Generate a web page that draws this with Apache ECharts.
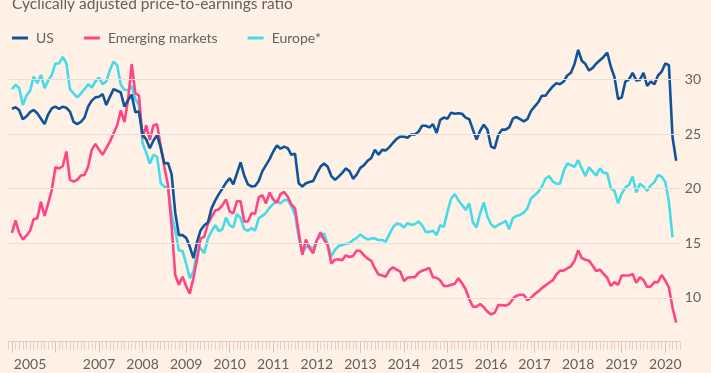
<!DOCTYPE html>
<html><head><meta charset="utf-8">
<script src="https://cdn.jsdelivr.net/npm/echarts@6/dist/echarts.min.js"></script>
<style>html,body{margin:0;padding:0;background:#fff1e5;}#c{width:711px;height:373px;}</style>
</head><body><div id="c"></div>
<script>
const titleText = 'Cyclically adjusted price-to-earnings ratio';
const seriesNames = ['US', 'Emerging markets', 'Europe*'];
// Monthly values, Jan 2005 onwards
const usValues = [
27.3,27.45,27.2,26.35,26.6,27.0,27.2,26.9,26.4,25.9,26.8,27.35,
27.5,27.3,27.5,27.4,27.05,26.1,25.9,26.1,26.5,27.5,28.05,28.35,
28.4,28.65,27.65,28.4,29.1,28.95,28.8,27.5,28.1,28.6,27.0,27.05,
24.95,24.5,23.7,24.4,24.9,23.75,22.3,22.35,21.3,17.8,15.75,15.75,
15.5,14.7,13.65,15.1,16.2,16.65,16.9,18.2,18.9,19.5,20.0,20.55,
20.95,20.4,21.4,22.4,21.2,20.4,20.2,20.25,20.7,21.6,22.15,22.7,
23.4,23.95,23.65,23.85,23.7,23.1,23.2,20.5,20.2,20.5,20.6,20.7,
21.4,22.0,22.3,22.0,21.15,20.8,21.1,21.45,21.85,21.6,20.9,21.3,
21.9,22.15,22.55,22.8,23.55,23.1,23.55,23.5,23.8,24.2,24.55,24.75,
24.75,24.65,24.95,24.95,25.2,25.75,25.75,25.6,25.9,25.1,26.3,26.5,
26.4,26.95,26.85,26.9,26.85,26.5,26.35,25.4,24.5,25.3,25.85,25.4,
23.85,23.7,24.9,25.4,25.4,25.6,26.4,26.55,26.35,26.15,26.35,27.1,
27.5,27.9,28.5,28.5,28.95,29.35,29.65,29.55,29.8,30.35,30.6,31.4,
32.7,31.7,31.4,30.8,31.05,31.45,31.75,32.05,32.45,31.15,30.2,28.2,
28.35,29.8,30.0,30.6,29.9,29.95,30.6,29.4,29.8,29.55,30.35,30.7,
31.45,31.3,24.7,22.55
];
const emValues = [
15.95,17.1,15.95,15.35,15.7,16.15,17.2,17.3,18.8,17.5,18.65,19.9,
21.95,21.85,22.05,23.4,20.8,20.65,20.8,21.2,21.25,22.0,23.55,24.1,
23.55,23.1,23.7,24.3,25.05,25.8,27.15,26.1,28.1,31.4,28.75,28.5,
24.6,25.8,24.45,25.8,25.9,23.85,22.0,20.3,16.6,12.1,11.2,11.95,
11.1,10.4,11.8,13.5,15.45,15.6,16.8,17.4,18.0,18.1,18.5,19.0,
17.9,17.75,18.85,18.85,17.0,17.0,17.75,17.7,19.2,19.4,18.65,19.65,
19.0,18.7,19.5,19.7,19.25,18.55,18.2,16.05,13.95,15.35,14.55,14.1,
15.25,16.0,15.3,14.85,13.15,13.5,13.55,13.45,13.9,13.75,13.85,14.35,
14.3,13.9,13.6,13.4,12.7,12.15,12.05,11.95,12.55,12.8,12.6,12.4,
11.55,11.85,11.9,11.9,12.3,12.5,12.6,12.75,11.9,11.85,11.6,11.1,
11.1,11.2,11.3,11.8,11.35,10.8,9.9,9.2,9.2,9.45,9.15,8.75,
8.5,8.65,9.35,9.35,9.3,9.45,9.9,10.2,10.3,10.3,9.8,10.0,
10.35,10.6,10.9,11.15,11.4,11.6,12.15,12.5,12.5,12.7,12.9,13.4,
14.35,13.65,13.5,13.4,12.95,12.45,12.6,12.2,11.85,11.1,11.45,11.2,
12.05,12.05,12.05,12.2,11.4,11.9,11.65,11.0,11.05,11.45,11.45,12.1,
11.6,10.95,9.1,7.75
];
const euValues = [
29.1,29.5,29.2,27.65,28.5,28.95,30.25,29.65,30.4,29.2,29.9,30.4,
31.45,31.45,32.05,31.45,29.1,28.7,28.35,28.7,29.1,29.55,29.25,29.8,
30.15,29.55,29.8,30.85,31.6,31.3,29.5,29.05,29.0,29.4,28.2,27.65,
24.15,23.3,22.3,23.1,22.9,20.5,20.2,20.1,17.6,16.2,14.35,14.3,
13.15,11.8,12.4,14.25,14.55,14.1,15.45,16.1,16.65,16.1,16.3,17.35,
16.65,16.45,17.7,17.3,16.3,16.15,16.4,16.15,17.3,17.5,17.8,18.25,
18.6,18.9,18.65,18.95,18.95,18.4,17.6,15.6,14.1,14.65,14.7,14.5,
15.3,15.6,15.9,14.85,13.8,14.4,14.75,14.85,14.95,15.0,15.3,15.5,
15.8,15.55,15.35,15.45,15.45,15.3,15.3,15.15,15.85,16.45,16.8,16.75,
16.45,16.85,16.7,16.75,17.0,16.65,16.05,16.05,16.15,15.75,16.65,16.5,
17.9,19.1,19.5,18.95,18.5,18.05,18.65,16.9,16.45,17.75,18.75,17.45,
16.75,16.45,16.7,16.85,17.05,16.3,17.3,17.5,17.6,17.8,18.2,19.1,
19.4,19.7,20.2,20.9,21.15,20.65,20.45,20.45,21.6,22.3,22.15,22.0,
22.6,21.85,21.15,21.95,21.55,21.2,21.85,21.45,21.4,20.05,19.8,18.65,
19.55,20.1,20.35,21.1,19.65,20.45,20.2,19.8,20.3,20.6,21.25,21.1,
20.6,18.8,15.55
];
const yTickValues = [10, 15, 20, 25, 30];
const xLabelMonths = ['2005-06','2007-01','2008-01','2009-01','2010-01','2011-01','2012-01','2013-01',
  '2014-01','2015-01','2016-01','2017-01','2018-01','2019-01','2020-01'];

const months = [];
for (let y = 2004; y <= 2020; y++) {
  for (let m = 1; m <= 12; m++) {
    const s = y + '-' + String(m).padStart(2, '0');
    if (s >= '2004-12' && s <= '2020-05') months.push(s);
  }
}
function pad(arr) {
  const out = [null].concat(arr);
  while (out.length < months.length) out.push(null);
  return out;
}

const FONT = 'Lato';
const TXT = '#66605c';
const colors = ['#0f5499', '#ff4585', '#45dbe8'];

const chart = echarts.init(document.getElementById('c'), null, {renderer: 'canvas'});
chart.setOption({
  animation: false,
  backgroundColor: '#fff1e5',
  title: {
    text: titleText, left: 7, top: -9,
    textStyle: {fontSize: 15.5, fontWeight: 'normal', color: TXT, fontFamily: FONT}
  },
  legend: {
    data: seriesNames, left: 7, top: 26, icon: 'rect', itemWidth: 16, itemHeight: 3,
    itemGap: 30, selectedMode: false,
    textStyle: {color: TXT, fontSize: 14, fontFamily: FONT, padding: [0, 0, 0, 3]}
  },
  grid: {left: 8.27, right: 31.2, top: 35.6, bottom: 31.3, containLabel: false},
  xAxis: [{
    type: 'category', data: months, boundaryGap: false, position: 'bottom',
    axisLine: {show: true, lineStyle: {color: '#dcd1c7', width: 1}},
    axisTick: {show: true, interval: 0, length: 8, lineStyle: {color: '#e0d5cb'}},
    axisLabel: {
      interval: (i, v) => xLabelMonths.indexOf(v) >= 0,
      formatter: v => v.slice(0, 4),
      color: TXT, fontSize: 14, fontFamily: FONT, margin: 16
    },
    splitLine: {show: false}
  }, {
    type: 'category', data: months, boundaryGap: false, position: 'bottom',
    axisLine: {show: false},
    axisTick: {show: true, interval: (i, v) => v.slice(5) === '01', length: 11, lineStyle: {color: '#d2c6bc'}},
    axisLabel: {show: false},
    splitLine: {show: false}
  }],
  yAxis: {
    type: 'value', position: 'right', min: 6, max: 34,
    axisLine: {show: false}, axisTick: {show: false}, splitLine: {show: false},
    axisLabel: {
      customValues: yTickValues,
      formatter: v => (yTickValues.indexOf(v) >= 0 ? String(v) : ''),
      color: TXT, fontSize: 14, fontFamily: FONT, margin: 5
    }
  },
  series: [{
    name: 'grid', type: 'line', data: months.map(() => null), symbol: 'none', z: 1,
    markLine: {
      silent: true, symbol: ['none', 'none'], label: {show: false},
      lineStyle: {color: '#ebe0d6', width: 1, type: 'solid'},
      data: yTickValues.map(v => ({yAxis: v}))
    }
  }, {
    name: seriesNames[2], type: 'line', data: pad(euValues), symbol: 'none', z: 2,
    color: colors[2], lineStyle: {width: 2.6, color: colors[2]}
  }, {
    name: seriesNames[1], type: 'line', data: pad(emValues), symbol: 'none', z: 3,
    color: colors[1], lineStyle: {width: 2.6, color: colors[1]}
  }, {
    name: seriesNames[0], type: 'line', data: pad(usValues), symbol: 'none', z: 4,
    color: colors[0], lineStyle: {width: 2.6, color: colors[0]}
  }]
});
</script></body></html>
